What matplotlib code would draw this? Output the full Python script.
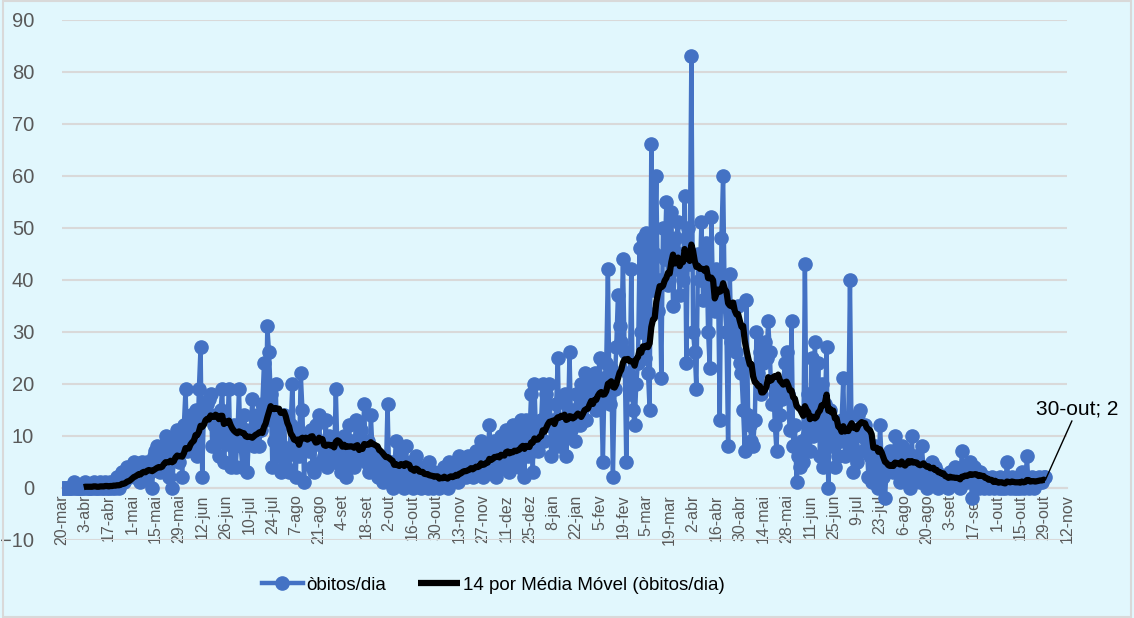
import numpy as np
import pandas as pd
import matplotlib
matplotlib.use('Agg')
import matplotlib.pyplot as plt

plt.rcParams['font.family'] = ['Liberation Sans', 'DejaVu Sans']

# óbitos diários (20-mar-2020 a 30-out-2021)
mar20 = [0,0,0,0,0,0,0,1,0,0,0,0]
abr20 = [0,0,1,0,0,0,0,1,0,0,0,1,0,0,1,0,0,1,0,1,0,2,0,1,3,1,2,4,2,3]
mai20 = [4,5,2,4,3,1,5,3,2,5,4,3,0,6,7,8,4,3,5,8,10,3,2,9,0,6,10,11,5,9,2]
jun20 = [12,19,7,10,14,8,13,15,6,19,27,2,15,14,16,17,18,8,12,14,10,6,15,19,5,9,12,19,4,8]
jul20 = [12,4,9,19,8,4,14,11,3,10,11,17,8,12,14,8,11,16,24,13,31,26,18,4,9,20,6,12,3,8,14]
ago20 = [4,6,3,12,20,8,2,11,6,22,15,1,10,9,7,11,4,3,12,9,14,5,8,6,13,4,10,7,8,5,19]
set20 = [7,9,3,6,10,2,8,12,5,9,4,13,7,6,11,8,16,5,9,3,14,7,4,6,2,3,4,1,5,3]
out20 = [16,2,5,0,3,9,1,4,7,2,0,8,3,1,5,0,2,6,1,3,0,4,2,1,0,5,2,0,3,1,2]
nov20 = [0,3,2,4,1,0,5,2,3,4,4,1,6,3,4,5,2,6,3,4,2,5,7,3,6,9,2,4,8,6]
dez20 = [12,3,6,9,2,7,4,10,5,8,11,6,3,9,12,7,5,11,4,13,8,2,13,6,10,18,3,20,9,7,12]
jan21 = [13,20,9,18,12,20,6,13,9,16,25,8,12,10,18,6,11,26,11,15,9,18,14,12,20,16,22,13,19,17,21]
fev21 = [18,22,15,20,25,17,5,21,24,42,16,23,2,19,27,37,31,28,44,26,5,22,18,42,15,12,20,24]
mar21 = [46,30,48,25,49,22,15,66,38,45,60,34,40,21,50,44,55,39,47,53,35,42,48,51,37,45,40,56,24,50,43]
abr21 = [83,30,26,19,45,40,51,36,40,47,30,23,52,36,34,42,38,13,48,60,35,30,8,41,28,33,30,26,35,24]
mai21 = [22,15,7,36,14,12,9,8,13,30,22,26,18,24,28,25,32,26,16,20,12,7,18,14,17,20,24,26,18,11,32]
jun21 = [8,12,1,6,4,9,5,43,10,18,7,25,10,28,12,24,6,20,4,16,27,0,15,8,12,4,10,6,9,13]
jul21 = [21,6,9,12,40,8,3,11,5,14,15,10,7,12,9,2,6,1,4,8,3,0,12,5,2,-2,4,6,7,5,3]
ago21 = [10,3,6,1,8,4,2,7,5,0,10,3,6,2,5,1,8,4,3,0,3,2,5,1,4,3,0,2,1,2,1]
set21 = [2,0,3,1,2,4,1,3,0,7,2,4,1,3,5,-2,4,2,1,0,3,1,0,2,1,0,1,2,0,1]
out21 = [1,0,2,0,1,0,5,1,0,2,0,1,0,1,0,3,0,1,6,0,1,2,0,1,1,2,1,1,2,2]

meses_pt = ['jan','fev','mar','abr','mai','jun','jul','ago','set','out','nov','dez']

obitos = (mar20 + abr20 + mai20 + jun20 + jul20 + ago20 + set20 + out20 + nov20 + dez20
          + jan21 + fev21 + mar21 + abr21 + mai21 + jun21 + jul21 + ago21 + set21 + out21)
datas = pd.date_range('2020-03-20', periods=len(obitos), freq='D')
serie = pd.Series(obitos, index=datas)
media = serie.rolling(14).mean()

fundo = '#E1F7FD'
azul = '#4472C4'
cinza = '#595959'

fig = plt.figure(figsize=(11.34, 6.18), dpi=100, facecolor=fundo)
ax = fig.add_axes([62/1134, 1-539.5/618, (1067-62)/1134, (539.5-19.5)/618])
ax.set_facecolor(fundo)

# eixo x cruzando em 0 (antes de configurar os ticks, senão eles são resetados)
for s in ['left', 'right', 'top']:
    ax.spines[s].set_visible(False)
ax.spines['bottom'].set_position(('data', 0))
ax.spines['bottom'].set_color('#D9D9D9')
ax.spines['bottom'].set_linewidth(1.5)

ax.plot(serie.index, serie.values, color=azul, lw=3.2, marker='o', ms=9.5,
        label='òbitos/dia', zorder=3)
ax.plot(media.index, media.values, color='black', lw=4.5, solid_capstyle='butt',
        label='14 por Média Móvel (òbitos/dia)', zorder=4)

ax.set_ylim(-10, 90)
ax.set_yticks(np.arange(-10, 91, 10))
ax.grid(axis='y', color='#D9D9D9', lw=1.5, zorder=0)
ax.set_axisbelow(True)

ticks = pd.date_range('2020-03-20', '2021-11-12', freq='14D')
ax.set_xlim(ticks[0], ticks[-1])
ax.set_xticks(ticks)
ax.set_xticklabels(['%d-%s' % (t.day, meses_pt[t.month-1]) for t in ticks],
                   rotation=90, fontsize=11.5, color=cinza, va='top', ha='center')
ax.tick_params(axis='y', length=0, pad=20, labelsize=14.5, labelcolor=cinza)
ax.tick_params(axis='x', length=0, pad=5)

ult = datas[-1]
ax.annotate('%d-%s; %d' % (ult.day, meses_pt[ult.month-1], obitos[-1]),
            xy=(ult, media.iloc[-1]), xytext=(32, 62), textcoords='offset pixels',
            ha='center', va='bottom', fontsize=15, annotation_clip=False,
            arrowprops=dict(arrowstyle='-', color='black', lw=1, shrinkA=0, shrinkB=0,
                            relpos=(0.45, 0)), zorder=5)

fig.legend(loc='center', bbox_to_anchor=(0.435, 0.053), ncol=2, frameon=False,
           fontsize=13.5, handlelength=2.2, columnspacing=1.7, handletextpad=0.2)

fig.patches.append(plt.Rectangle((0.003, 0.002), 0.994, 0.996, transform=fig.transFigure,
                                 fill=False, edgecolor='#D9D9D9', lw=1.5))

plt.savefig('out.png', dpi=100, facecolor=fundo)
